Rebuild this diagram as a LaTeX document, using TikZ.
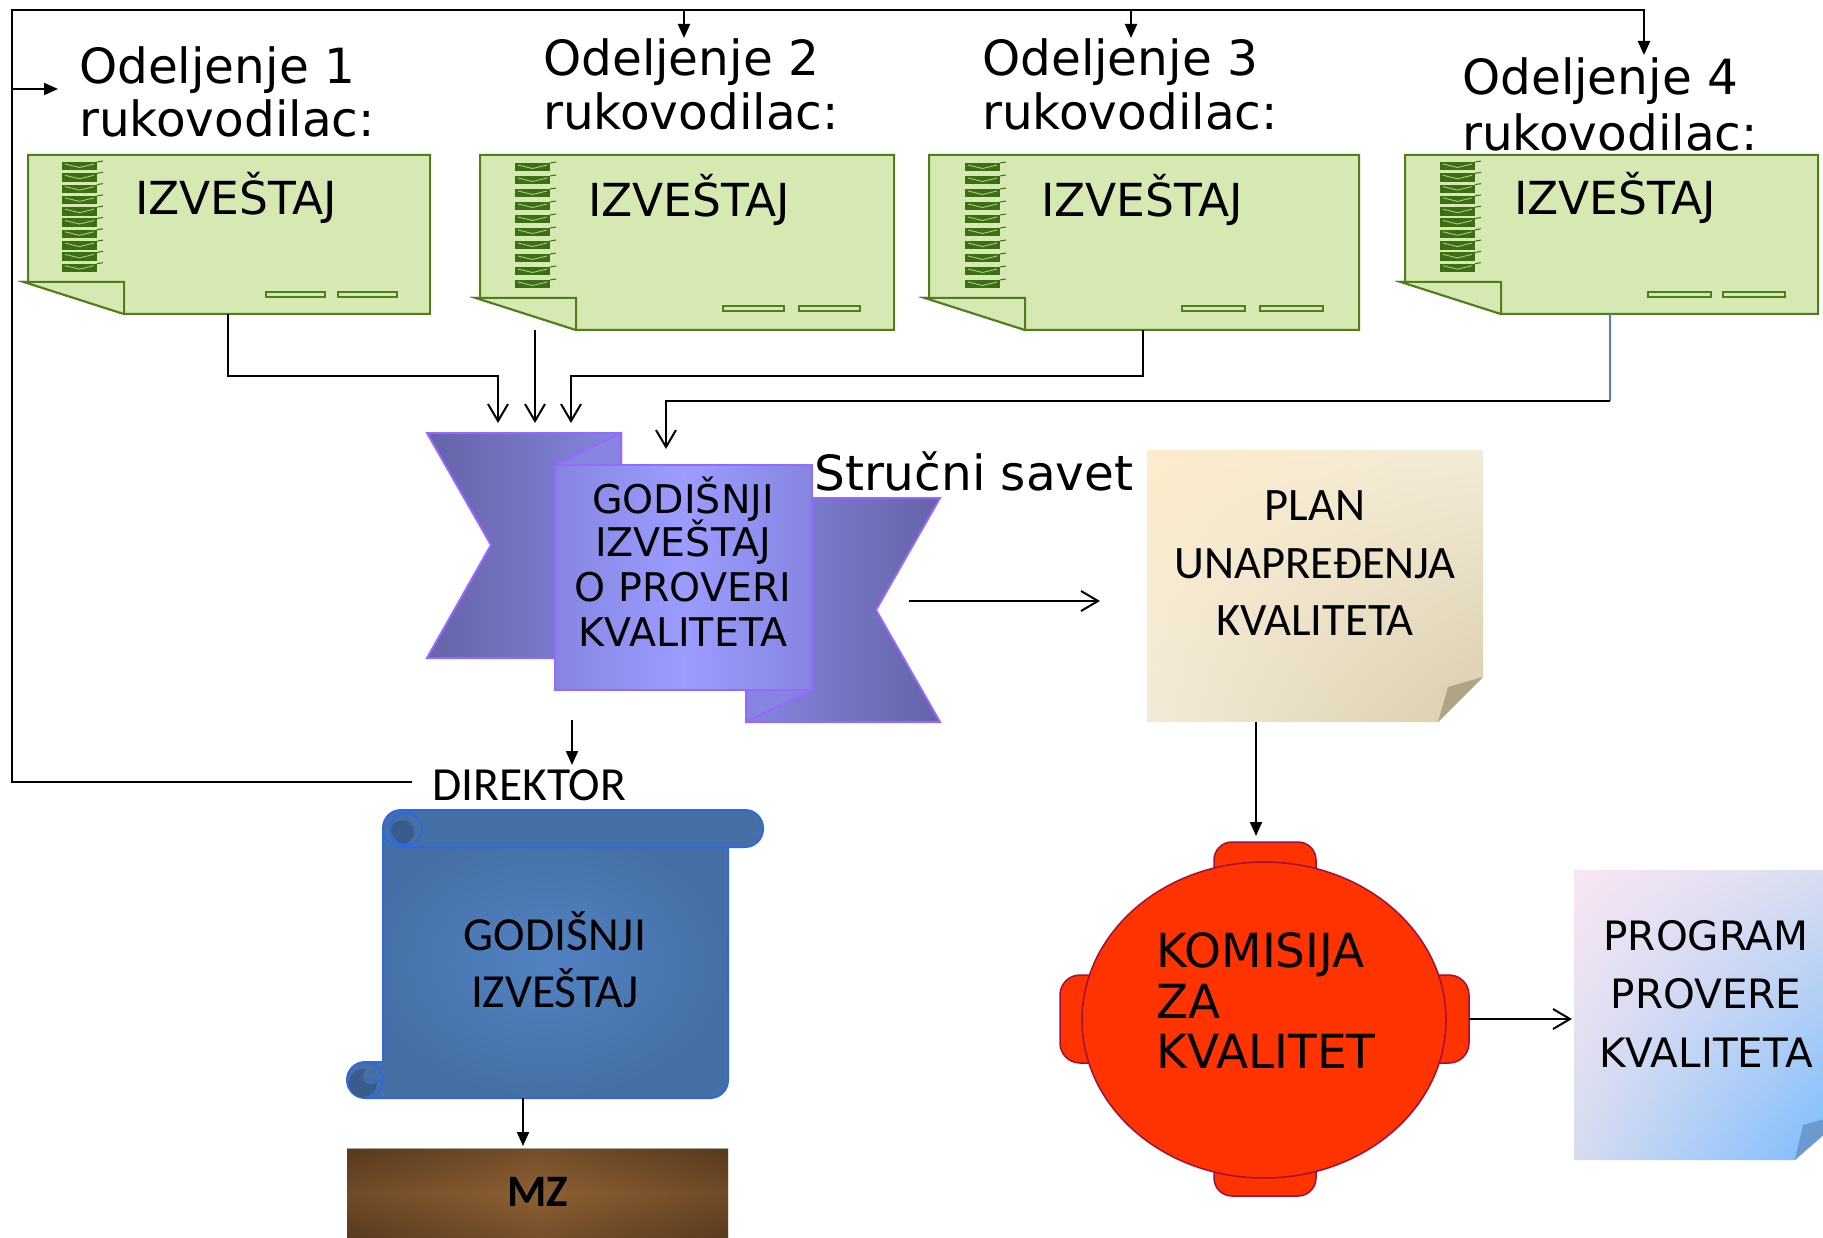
\documentclass[tikz,border=0pt]{standalone}
\usepackage{fontspec}
\setmainfont{DejaVu Sans}
\newfontfamily\calfont{Carlito}
\usetikzlibrary{arrows.meta,shadings}
\definecolor{repfill}{HTML}{D7E9B3}
\definecolor{repline}{HTML}{4E7F1A}
\definecolor{chkdark}{HTML}{3C6E14}
\definecolor{chklight}{HTML}{A8CC78}
\definecolor{ribline}{HTML}{9966FF}
\definecolor{ribdark}{HTML}{6464A8}
\definecolor{ribmid}{HTML}{8585E0}
\definecolor{riblight}{HTML}{9C9CFF}
\definecolor{komfill}{HTML}{FF3300}
\definecolor{komline}{HTML}{A0103A}
\definecolor{scrin}{HTML}{5282C2}
\definecolor{scrout}{HTML}{4570A6}
\definecolor{scrline}{HTML}{2F68DC}
\definecolor{curl}{HTML}{3A5C8C}
\definecolor{mzdark}{HTML}{583A1E}
\definecolor{mzlight}{HTML}{8E6034}
\definecolor{bluecon}{HTML}{4F81BD}
\definecolor{plA}{HTML}{FDEBCB}
\definecolor{plB}{HTML}{F2EBD8}
\definecolor{plC}{HTML}{DACDAA}
\definecolor{plD}{HTML}{B0A484}
\definecolor{prA}{HTML}{F8E6F4}
\definecolor{prB}{HTML}{D6DCEF}
\definecolor{prC}{HTML}{72B8FF}
\definecolor{prD}{HTML}{6A9AD0}
\tikzset{
  conn/.style={line width=2pt, draw=black},
  topline/.style={line width=2.5pt, draw=black},
  barb/.style={-{Straight Barb[length=17pt,width=20pt]}},
  tri/.style={-{Triangle[length=14pt,width=12pt]}},
  report/.style={fill=repfill, draw=repline, line width=2pt},
  dashbox/.style={fill=repfill, draw=repline, line width=1.5pt},
  txtA/.style={inner sep=0pt, font=\fontsize{48.5}{55}\selectfont},
  txtR/.style={inner sep=0pt, anchor=base west, font=\fontsize{45.5}{52}\selectfont},
  txtRib/.style={inner sep=0pt, anchor=base, font=\fontsize{39.5}{45}\selectfont},
  txtCal/.style={inner sep=0pt, anchor=base, font=\calfont\fontsize{47.5}{55}\selectfont},
  txtKom/.style={inner sep=0pt, anchor=base west, font=\fontsize{47}{50}\selectfont},
  txtProg/.style={inner sep=0pt, anchor=base, font=\fontsize{40.5}{58}\selectfont},
  ribpart/.style={draw=ribline, line width=2pt},
  scrollline/.style={draw=scrline, line width=2pt},
  kom/.style={fill=komfill, draw=komline, line width=1.5pt},
}
\newcommand\chkcol[3]{%
  \foreach \k in {0,...,9}{%
    \pgfmathsetmacro\yy{#2+\k*#3}%
    \fill[chkdark] (#1,\yy) rectangle ++(35,8.5);
    \draw[chklight, line width=0.9pt] (#1+3,\yy+2) -- (#1+17.5,\yy+5.5) -- (#1+32,\yy+2);
    \draw[chkdark, line width=1pt] (#1+35,\yy) -- (#1+41,\yy-1);
  }}
\newcommand\repbox[3]{%
  \filldraw[report] (#1,155) -- (#2,155) -- (#2,#3) -- (#1+96,#3) -- (#1-4,#3-32) -- (#1,#3-32) -- cycle;
  \filldraw[report] (#1-4,#3-32) -- (#1+96,#3-32) -- (#1+96,#3) -- cycle;}
\begin{document}
\begin{tikzpicture}[x=1pt,y=-1pt]
\useasboundingbox (0,0) rectangle (1823,1238);
\fill[white] (0,0) rectangle (1823,1238);

% ---- department labels
\node[txtA, anchor=base west] (d1a) at (79,84) {Odeljenje 1};
\node[txtA, anchor=base west] (d1b) at (79,137) {rukovodilac:};
\node[txtA, anchor=base west] (d2a) at (543,76) {Odeljenje 2};
\node[txtA, anchor=base west] (d2b) at (543,130) {rukovodilac:};
\node[txtA, anchor=base west] (d3a) at (982,76) {Odeljenje 3};
\node[txtA, anchor=base west] (d3b) at (982,130) {rukovodilac:};
\node[txtA, anchor=base west] (d4a) at (1462,95) {Odeljenje 4};
\node[txtA, anchor=base west] (d4b) at (1462,151) {rukovodilac:};

% ---- report boxes
\repbox{28}{430}{314}
\repbox{480}{894}{330}
\repbox{929}{1359}{330}
\repbox{1405}{1818}{314}
\chkcol{62}{162}{11.3}
\chkcol{515}{163}{13}
\chkcol{965}{163}{13}
\chkcol{1440}{162}{11.3}
\draw[dashbox] (266,292) rectangle ++(59,5);
\draw[dashbox] (338,292) rectangle ++(59,5);
\draw[dashbox] (723,306) rectangle ++(61,5);
\draw[dashbox] (799,306) rectangle ++(61,5);
\draw[dashbox] (1182,306) rectangle ++(63,5);
\draw[dashbox] (1260,306) rectangle ++(63,5);
\draw[dashbox] (1648,292) rectangle ++(63,5);
\draw[dashbox] (1723,292) rectangle ++(62,5);
\node[txtR] (iz1) at (135,215) {IZVEŠTAJ};
\node[txtR] (iz2) at (588,217) {IZVEŠTAJ};
\node[txtR] (iz3) at (1041,217) {IZVEŠTAJ};
\node[txtR] (iz4) at (1514,215) {IZVEŠTAJ};

% ---- coordinates for connectors
\coordinate (r1bot) at (228,314);
\coordinate (r2bot) at (535,330);
\coordinate (r3bot) at (1143,330);
\coordinate (r4bot) at (1610,314);
\coordinate (k1) at (498,376);
\coordinate (k3) at (571,376);
\coordinate (k4a) at (1610,401);
\coordinate (k4b) at (666,401);
\coordinate (in1) at (498,423);
\coordinate (in2) at (535,423);
\coordinate (in3) at (571,423);
\coordinate (in4) at (666,449);

% ---- ribbon
\shadedraw[ribpart, left color=ribdark, right color=ribmid] (427,433) -- (621,433) -- (621,658) -- (427,658) -- (491,545) -- cycle;
\filldraw[ribpart, fill=ribmid] (555,465) -- (621,433) -- (621,465) -- cycle;
\shadedraw[ribpart, left color=ribmid, right color=ribdark] (746,498) -- (940,498) -- (876,610) -- (940,722) -- (746,722) -- cycle;
\filldraw[ribpart, fill=ribmid] (746,690) -- (812,690) -- (746,722) -- cycle;
\shadedraw[ribpart, left color=ribmid, right color=ribmid, middle color=riblight] (555,465) rectangle (812,690);
\node[txtRib] (g1) at (683,513) {GODIŠNJI};
\node[txtRib] (g2) at (683,556) {IZVEŠTAJ};
\node[txtRib] (g3) at (683,601) {O PROVERI};
\node[txtRib] (g4) at (683,646) {KVALITETA};
\coordinate (ribbot) at (572,720);
\coordinate (ribR) at (909,601);
\node[txtA, anchor=base west] (ss) at (814,490) {Stručni savet};

% ---- connectors from the reports
\draw[conn,barb] (r1bot) -- (228,376) -- (k1) -- (in1);
\draw[conn,barb] (r2bot) -- (in2);
\draw[conn,barb] (r3bot) -- (1143,376) -- (k3) -- (in3);
\draw[line width=1.5pt, draw=bluecon] (r4bot) -- (k4a);
\draw[conn,barb] (k4a) -- (k4b) -- (in4);

% ---- top feedback line
\coordinate (dirl) at (412,782);
\coordinate (cL) at (12,782);
\coordinate (cTL) at (12,10);
\coordinate (cTR) at (1644,10);
\coordinate (a1) at (58,89);
\coordinate (a2) at (684,38);
\coordinate (a3) at (1131,38);
\coordinate (a4) at (1644,55);
\draw[topline,tri] (dirl) -- (cL) -- (cTL) -- (cTR) -- (a4);
\draw[conn,tri] (12,89) -- (a1);
\draw[conn,tri] (684,10) -- (a2);
\draw[conn,tri] (1131,10) -- (a3);

% ---- PLAN
\shade[upper left=plA, upper right=plB, lower left=plB, lower right=plC]
  (1147,450) -- (1483,450) -- (1483,677) -- (1438,722) -- (1147,722) -- cycle;
\fill[fill=plD] (1438,722) -- (1448,687) -- (1483,677) -- cycle;
\node[txtCal, font=\calfont\fontsize{46.5}{55}\selectfont] (p1) at (1315,520) {PLAN};
\node[txtCal, font=\calfont\fontsize{46.5}{55}\selectfont] (p2) at (1315,578) {UNAPREĐENJA};
\node[txtCal, font=\calfont\fontsize{46.5}{55}\selectfont] (p3) at (1315,635) {KVALITETA};
\coordinate (planL) at (1100,601);
\coordinate (planbot) at (1256,722);
\draw[conn,barb] (ribR) -- (planL);

% ---- DIREKTOR and scroll
\node[txtCal, anchor=base west] (dir) at (432,800) {DIREKTOR};
\coordinate (dirtop) at (572,765);
\draw[conn,tri] (ribbot) -- (dirtop);
\shade[inner color=scrin, outer color=scrout]
  (383,828) -- (728,828) -- (728,1080) .. controls (728,1090) and (720,1098) .. (710,1098) -- (365,1098) -- (365,1062) -- (383,1062) -- cycle;
\draw[scrollline] (383,830) -- (383,1062) -- (365,1062);
\draw[scrollline] (365,1098) -- (710,1098) .. controls (720,1098) and (728,1090) .. (728,1080) -- (728,845);
\filldraw[scrollline, fill=scrout] (365,1080) circle[radius=18pt];
\fill[curl] (363,1083) circle[radius=14pt];
\fill[scrout] (371,1076) circle[radius=8pt];
\draw[scrollline, line width=1.5pt] (365,1080) -- (383,1080);
\filldraw[scrollline, fill=scrout, rounded corners=18pt] (383,810) rectangle (763,847);
\fill[curl] (402,832) circle[radius=12pt];
\draw[scrollline] (406,829) circle[radius=16pt];
\node[txtCal] (s1) at (555,950) {GODIŠNJI};
\node[txtCal] (s2) at (555,1007) {IZVEŠTAJ};
\coordinate (scrbot) at (523,1098);
\coordinate (mztop) at (523,1146);
\draw[conn,tri] (scrbot) -- (mztop);

% ---- MZ
\shade[left color=mzdark, right color=mzdark, middle color=mzlight] (347,1148) rectangle (728,1250);
\shade[top color=mzdark, bottom color=mzdark, middle color=mzlight, opacity=0.45] (347,1148) rectangle (728,1240);
\draw[gray!70, line width=1pt] (347,1148) -- (728,1148);
\node[txtCal, font=\calfont\bfseries\fontsize{45}{55}\selectfont] (mz) at (538,1206) {MZ};

% ---- KOMISIJA
\filldraw[kom, rounded corners=18pt] (1214,842) rectangle (1316,900);
\filldraw[kom, rounded corners=18pt] (1214,1140) rectangle (1316,1196);
\filldraw[kom, rounded corners=20pt] (1060,975) rectangle (1110,1063);
\filldraw[kom, rounded corners=20pt] (1418,975) rectangle (1469,1063);
\filldraw[kom] (1264,1020) ellipse[x radius=182pt, y radius=158pt];
\node[txtKom] (k1t) at (1156,967) {KOMISIJA};
\node[txtKom] (k2t) at (1156,1018) {ZA};
\node[txtKom] (k3t) at (1156,1068) {KVALITET};
\coordinate (komtop) at (1256,836);
\coordinate (komR) at (1469,1019);
\draw[conn,tri] (planbot) -- (komtop);

% ---- PROGRAM
\shade[upper left=prA, upper right=prB, lower left=prB, lower right=prC]
  (1574,870) -- (1850,870) -- (1850,1104) -- (1795,1160) -- (1574,1160) -- cycle;
\fill[prD] (1795,1160) -- (1803,1125) -- (1850,1112) -- cycle;
\node[txtProg] (pr1) at (1706,950) {PROGRAM};
\node[txtProg] (pr2) at (1706,1008) {PROVERE};
\node[txtProg] (pr3) at (1706,1067) {KVALITETA};
\coordinate (progL) at (1572,1019);
\draw[conn,barb] (komR) -- (progL);
\end{tikzpicture}
\end{document}
